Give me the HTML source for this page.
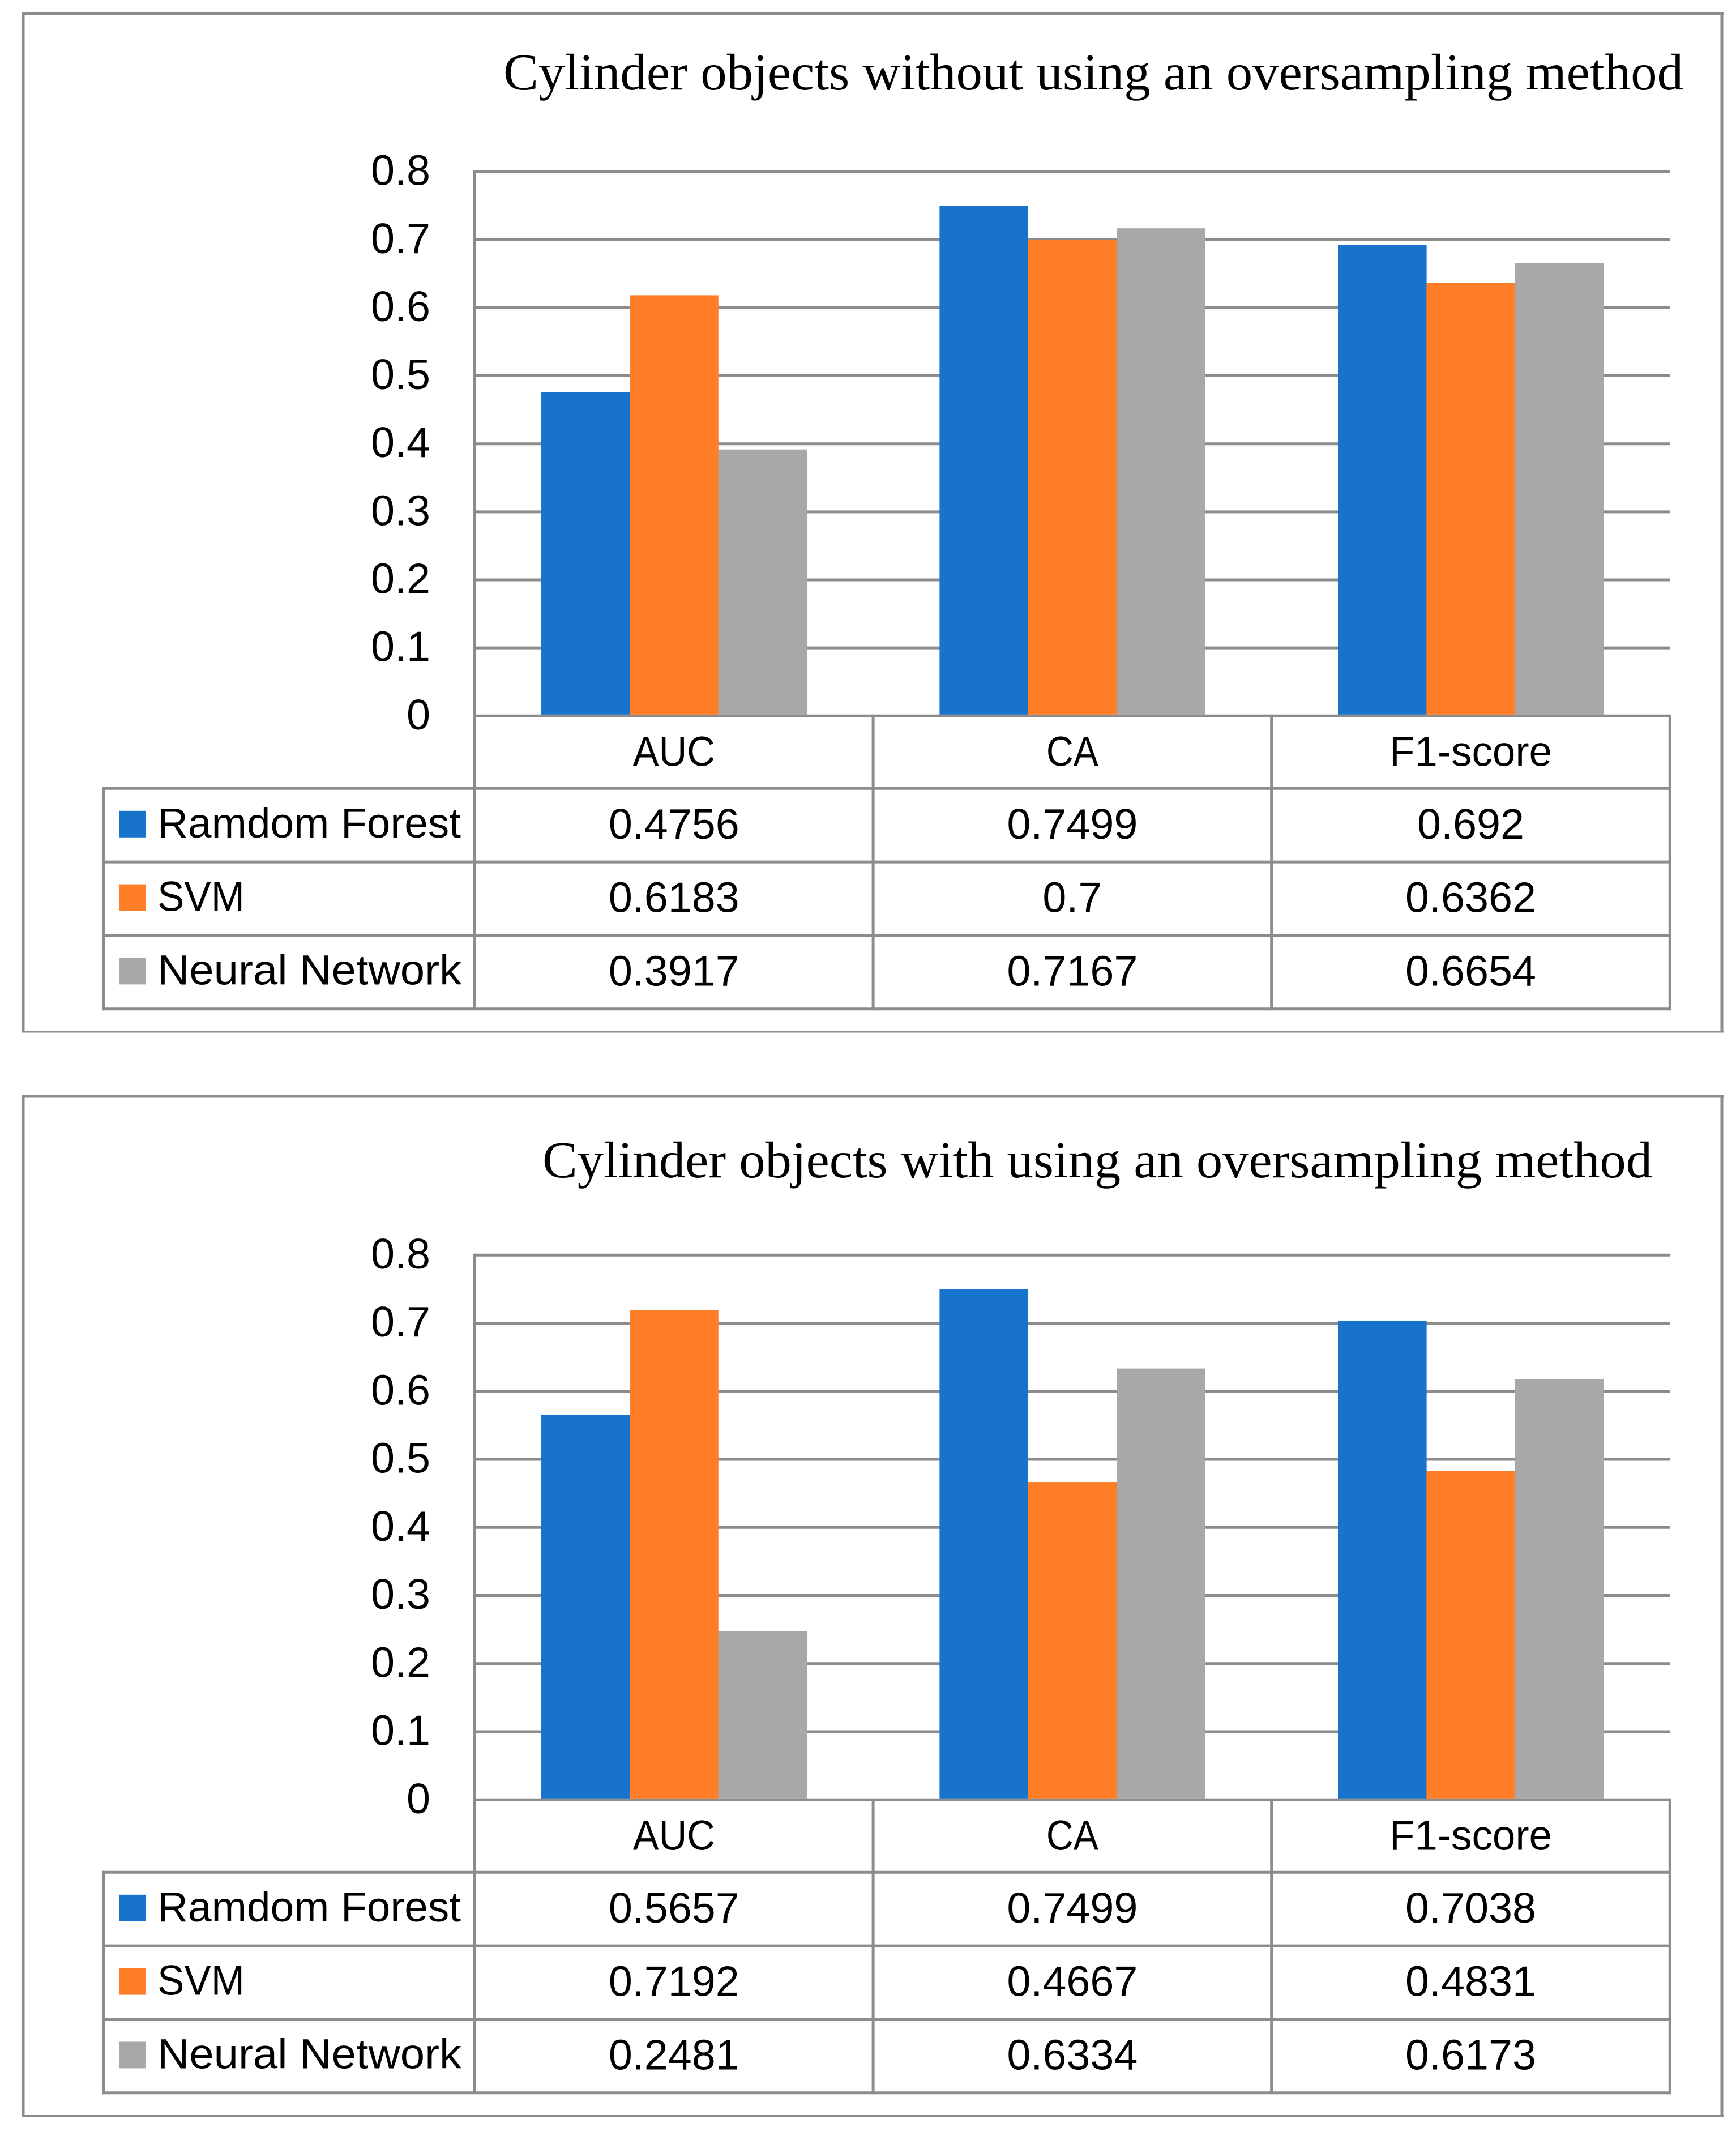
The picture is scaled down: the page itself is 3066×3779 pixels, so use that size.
<!DOCTYPE html>
<html lang="en">
<head>
<meta charset="utf-8">
<title>Cylinder objects classification comparison</title>
<style>
html,body{margin:0;padding:0;background:#fff;width:3066px;height:3779px;overflow:hidden}
svg{display:block;position:absolute;left:0;top:0}
.t{font-family:"Liberation Sans",sans-serif;font-size:74px;fill:#000}
.n{font-family:"Liberation Sans",sans-serif;font-size:75.5px;fill:#000}
.h{font-family:"Liberation Serif",serif;font-size:91px;fill:#000}
</style>
</head>
<body>
<svg id="root" xmlns="http://www.w3.org/2000/svg" width="3066" height="3779" viewBox="0 0 3066 3779">
  <rect x="0" y="0" width="3066" height="3779" fill="#ffffff"/>
  <g id="chart-a">
    <g fill="#8c8c8c">
      <rect x="38.5" y="21" width="3005.5" height="5"/>
      <rect x="38.5" y="1820.5" width="3005.5" height="3"/>
      <rect x="38.5" y="21" width="5" height="1802.5"/>
      <rect x="3038.5" y="21" width="5" height="1802.5"/>
    </g>
    <text class="h" x="889" y="158" textLength="2084" lengthAdjust="spacingAndGlyphs">Cylinder objects without using an oversampling method</text>
  </g>
  <g id="chart-b">
    <g fill="#8c8c8c">
      <rect x="38.5" y="1933.5" width="3005.5" height="5"/>
      <rect x="38.5" y="3735" width="3005.5" height="3"/>
      <rect x="38.5" y="1933.5" width="5" height="1804.5"/>
      <rect x="3038.5" y="1933.5" width="5" height="1804.5"/>
    </g>
    <text class="h" x="958" y="2079" textLength="1960" lengthAdjust="spacingAndGlyphs">Cylinder objects with using an oversampling method</text>
  </g>
</svg>
<script>
const categories = ["AUC", "CA", "F1-score"];
const seriesNames = ["Ramdom Forest", "SVM", "Neural Network"];
const seriesColors = ["#1874cb", "#ff7e27", "#a8a8a8"];
const yTicks = [0, 0.1, 0.2, 0.3, 0.4, 0.5, 0.6, 0.7, 0.8];

const withoutRandomForest = [0.4756, 0.7499, 0.692];
const withoutSvm = [0.6183, 0.7, 0.6362];
const withoutNeuralNetwork = [0.3917, 0.7167, 0.6654];

const withRandomForest = [0.5657, 0.7499, 0.7038];
const withSvm = [0.7192, 0.4667, 0.4831];
const withNeuralNetwork = [0.2481, 0.6334, 0.6173];

const NS = "http://www.w3.org/2000/svg";
const LINE = "#8c8c8c";
const PLOT_LEFT = 838.5, COL_W = 703.6, TABLE_LEFT = 183, ROW_H = 129.8;

/* Calibri-like text widths, fitted because Liberation Sans has different proportions */
function fitWidth(name) {
  if (name === "Ramdom Forest") return 536;
  if (name === "Neural Network") return 537;
  if (name === "SVM") return 154;
  if (name === "AUC") return 145;
  if (name === "CA") return 92;
  if (name === "F1-score") return 287;
  return 0;
}

function make(tag, attrs, parent, text) {
  const n = document.createElementNS(NS, tag);
  for (const k in attrs) n.setAttribute(k, attrs[k]);
  if (text !== undefined) n.textContent = text;
  parent.appendChild(n);
  return n;
}

function drawChart(parent, baseY, unit, rows) {
  const yScale = v => baseY - v * unit;
  const xBand = i => PLOT_LEFT + i * COL_W;
  const barW = COL_W / 4.5;
  const right = xBand(categories.length);
  const tableTop = baseY + 128;
  const rowY = i => tableTop + i * ROW_H;
  const tableBottom = rowY(seriesNames.length);

  yTicks.forEach(t => {
    const grid = make("line", {x1: PLOT_LEFT, x2: right, y1: yScale(t), y2: yScale(t), stroke: LINE, "stroke-width": 5}, parent);
    
    
    const label = make("text", {class: "n", x: 760, y: yScale(t) + 23.5, "text-anchor": "end"}, parent, String(t));
    
    
  });

  rows.forEach((values, s) => {
    values.forEach((v, c) => {
      const x = xBand(c) + barW * 0.75 + s * barW;
      const bar = make("rect", {x: x, y: yScale(v), width: barW + 0.3, height: v * unit - 2.5, fill: seriesColors[s]}, parent);
      
      
    });
  });

  for (let i = 0; i <= seriesNames.length; i++) {
    const rowLine = make("line", {x1: TABLE_LEFT - 2.5, x2: right + 2.5, y1: rowY(i), y2: rowY(i), stroke: LINE, "stroke-width": 5}, parent);
    
    
  }
  const tableEdge = make("line", {x1: TABLE_LEFT, x2: TABLE_LEFT, y1: tableTop - 2.5, y2: tableBottom + 2.5, stroke: LINE, "stroke-width": 5}, parent);
  
  
  const axis = make("line", {x1: PLOT_LEFT, x2: PLOT_LEFT, y1: yScale(0.8) - 2.5, y2: tableBottom, stroke: LINE, "stroke-width": 5}, parent);
  
  
  for (let c = 1; c <= categories.length; c++) {
    const colLine = make("line", {x1: xBand(c), x2: xBand(c), y1: baseY - 2.5, y2: tableBottom + 2.5, stroke: LINE, "stroke-width": 5}, parent);
    
    
  }

  categories.forEach((name, c) => {
    const label = make("text", {class: "t", x: xBand(c) + COL_W / 2, y: baseY + 88, "text-anchor": "middle", textLength: fitWidth(name), lengthAdjust: "spacingAndGlyphs"}, parent, name);
    
    
  });

  seriesNames.forEach((name, s) => {
    const top = rowY(s);
    const swatch = make("rect", {x: 211, y: top + 39.5, width: 47, height: 47, fill: seriesColors[s]}, parent);
    
    
    const label = make("text", {class: "t", x: 278, y: top + 86.5, textLength: fitWidth(name), lengthAdjust: "spacingAndGlyphs"}, parent, name);
    
    
    rows[s].forEach((v, c) => {
      const cell = make("text", {class: "n", x: xBand(c) + COL_W / 2, y: top + 88.5, "text-anchor": "middle"}, parent, String(v));
      
      
    });
  });
}

drawChart(document.getElementById("chart-a"), 1264.3, 1201.5, [withoutRandomForest, withoutSvm, withoutNeuralNetwork]);
drawChart(document.getElementById("chart-b"), 3178.3, 1202.5, [withRandomForest, withSvm, withNeuralNetwork]);
</script>
</body>
</html>
